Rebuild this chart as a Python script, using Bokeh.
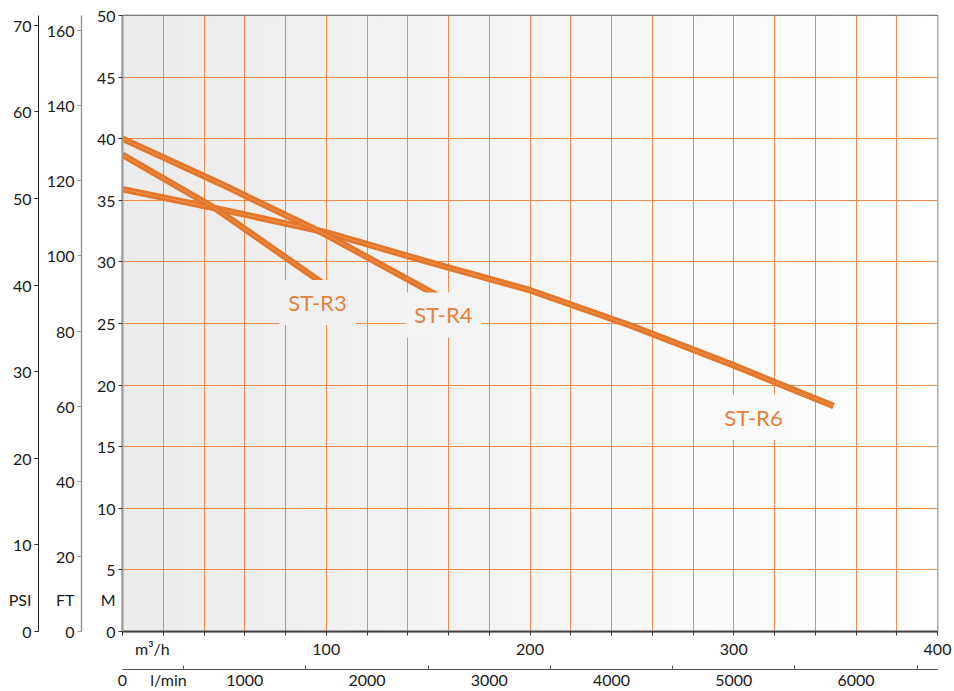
import numpy as np
from bokeh.plotting import figure
from bokeh.models import LinearAxis, Range1d, FixedTicker, Label
from bokeh.embed import file_html
from bokeh.resources import INLINE

# ---------------- data ----------------
r3_q = [0, 45, 98]
r3_h = [38.7, 34.4, 28.3]
r4_q = [0, 50, 100, 157.5]
r4_h = [40.0, 36.2, 32.2, 27.0]
r6_q = [0, 50, 100, 150, 200, 250, 300, 349]
r6_h = [35.9, 34.2, 32.4, 30.0, 27.7, 24.8, 21.6, 18.3]
curve_names = ["ST-R3", "ST-R4", "ST-R6"]
label_pos_q = [95.7, 157.5, 309.7]
label_pos_h = [26.7, 25.7, 17.4]

m_ticks = list(range(0, 51, 5))
ft_ticks = list(range(0, 161, 20))
psi_ticks = list(range(0, 71, 10))
q_ticks = [100, 200, 300, 400]
q_minor = list(range(0, 401, 20))
lmin_ticks = list(range(0, 6001, 1000))
lmin_minor = list(range(500, 6501, 1000))

# unit names, shown in the tick-label rows of their axes
unit_m, unit_ft, unit_psi = "M", "FT", "PSI"
unit_q, unit_lmin = "m³/h", "l/min"
UNIT_M_POS, UNIT_FT_POS, UNIT_PSI_POS = 2.6, 8.5, 3.7
UNIT_Q_POS, UNIT_LMIN_POS = 14.7, 376

FONT = "Lato"
ORANGE = "#E47629"
GRID = "#EE8C4C"

p = figure(width=954, height=691, x_range=Range1d(0, 400), y_range=Range1d(0, 50),
           output_backend="svg", toolbar_location=None,
           min_border_left=122, min_border_right=17, min_border_top=15, min_border_bottom=59)
p.outline_line_color = "#555555"
p.outline_line_width = 1.5
p.background_fill_color = "white"
p.border_fill_color = "white"

# background gradient (vertical strips, light grey -> white)
def bgval(q):
    return int(round(235 + 20 * q / 400))

def bgcol(q):
    v = bgval(q)
    return "#%02x%02x%02x" % (v, v, v)

strip_left = np.arange(0, 400, 5.0)
strip_cols = [bgcol(q + 2.5) for q in strip_left]
bg = p.quad(left=strip_left, right=strip_left + 5.3, bottom=0, top=50,
            fill_color=strip_cols, line_color=None)
bg.level = "image"

# grid
p.xgrid.ticker = FixedTicker(ticks=q_minor[1:-1])
p.ygrid.ticker = FixedTicker(ticks=m_ticks[1:-1])
for gr in (p.xgrid, p.ygrid):
    gr.grid_line_color = GRID
    gr.grid_line_width = 1

lbl_style = dict(major_label_text_font=FONT, major_label_text_font_size="16px",
                 major_label_text_color="#1a1a1a")

def tick_style(color, out=4):
    # visible tick marks are drawn as minor ticks; major ticks only carry labels
    return dict(major_tick_out=0, major_tick_in=0, minor_tick_out=out, minor_tick_in=0,
                minor_tick_line_color=color, minor_tick_line_width=1)

# main y axis (M)
ya = p.yaxis[0]
ya.ticker = FixedTicker(ticks=m_ticks + [UNIT_M_POS], minor_ticks=m_ticks)
ya.major_label_overrides = {UNIT_M_POS: unit_m}
ya.axis_line_color = "#999999"
ya.axis_line_width = 2
for k, v in tick_style("#333333").items():
    setattr(ya, k, v)
ya.major_label_standoff = 3
ya.axis_label = " "
ya.axis_label_text_font_size = "8px"
ya.axis_label_standoff = 0
for k, v in lbl_style.items():
    setattr(ya, k, v)

p.extra_y_ranges = {"ft": Range1d(0, 50 / 0.3048), "psi": Range1d(0, 50 / 0.70307)}
p.extra_x_ranges = {"lmin": Range1d(0, 400 * 1000 / 60)}

ft_axis = LinearAxis(y_range_name="ft",
                     ticker=FixedTicker(ticks=ft_ticks + [UNIT_FT_POS], minor_ticks=ft_ticks),
                     major_label_overrides={UNIT_FT_POS: unit_ft},
                     axis_line_color="#999999", axis_line_width=1.5,
                     major_label_standoff=3,
                     axis_label=" ", axis_label_text_font_size="2px", axis_label_standoff=0,
                     **tick_style("#999999"), **lbl_style)
p.add_layout(ft_axis, "left")
psi_axis = LinearAxis(y_range_name="psi",
                      ticker=FixedTicker(ticks=psi_ticks + [UNIT_PSI_POS], minor_ticks=psi_ticks),
                      major_label_overrides={UNIT_PSI_POS: unit_psi},
                      axis_line_color="#222222", axis_line_width=1,
                      major_label_standoff=3, **tick_style("#222222"), **lbl_style)
p.add_layout(psi_axis, "left")

# main x axis (m3/h)
xa = p.xaxis[0]
xa.ticker = FixedTicker(ticks=q_ticks + [UNIT_Q_POS], minor_ticks=q_minor)
xa.major_label_overrides = {UNIT_Q_POS: unit_q}
xa.axis_line_color = "#444444"
xa.axis_line_width = 2
for k, v in tick_style("#333333", out=4).items():
    setattr(xa, k, v)
xa.major_label_standoff = 3
xa.axis_label = " "
xa.axis_label_text_font_size = "5px"
xa.axis_label_standoff = 0
for k, v in lbl_style.items():
    setattr(xa, k, v)

lmin_axis = LinearAxis(x_range_name="lmin",
                       ticker=FixedTicker(ticks=lmin_ticks + [UNIT_LMIN_POS], minor_ticks=lmin_minor),
                       major_label_overrides={UNIT_LMIN_POS: unit_lmin},
                       axis_line_color="#555555", axis_line_width=1,
                       major_tick_out=0, major_tick_in=0,
                       minor_tick_in=4, minor_tick_out=0, minor_tick_line_color="#555555",
                       major_label_standoff=0, **lbl_style)
p.add_layout(lmin_axis, "below")

# curves
for qs, hs in ((r6_q, r6_h), (r4_q, r4_h), (r3_q, r3_h)):
    p.line(qs, hs, line_color=ORANGE, line_width=6.5, line_cap="butt", line_join="round")
    p.line(qs, hs, line_color="#F3B07E", line_width=1, line_alpha=0.5)

for name, q, h in zip(curve_names, label_pos_q, label_pos_h):
    p.add_layout(Label(x=q, y=h, text=name, text_align="center", text_baseline="middle",
                       text_font=FONT, text_font_size="22px", text_color="#E8803A",
                       background_fill_color=bgcol(q), padding=9))

open("out.html", "w").write(file_html(p, INLINE))
